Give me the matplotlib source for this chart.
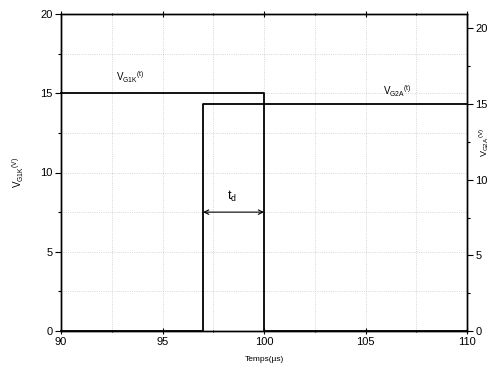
import matplotlib
matplotlib.use("Agg")
import matplotlib.pyplot as plt
from matplotlib.ticker import MultipleLocator

plt.rcParams['font.family'] = ['Liberation Sans', 'DejaVu Sans']
plt.rcParams['mathtext.fontset'] = 'custom'
plt.rcParams['mathtext.rm'] = 'Liberation Sans'
plt.rcParams['mathtext.it'] = 'Liberation Sans'

# Data
t_g1k = [90, 100, 100, 110]
v_g1k = [15, 15, 0, 0]
t_g2a = [90, 97, 97, 110]
v_g2a = [0, 0, 15, 15]
td_start, td_end, td_level = 97, 100, 7.5

fig = plt.figure(figsize=(4.92, 3.69), dpi=100)
ax = fig.add_axes([61/492, 1 - 331/369, (467-61)/492, (331-14)/369])
ax2 = ax.twinx()

ax.plot(t_g1k, v_g1k, color='black', lw=1.3, clip_on=False, zorder=5)
ax2.plot(t_g2a, v_g2a, color='black', lw=1.3, clip_on=False, zorder=5)

ax.set_xlim(90, 110)
ax.set_ylim(0, 20)
ax2.set_ylim(0, 20.95)

ax.xaxis.set_major_locator(MultipleLocator(5))
ax.xaxis.set_minor_locator(MultipleLocator(2.5))
ax.yaxis.set_major_locator(MultipleLocator(5))
ax.yaxis.set_minor_locator(MultipleLocator(2.5))
ax2.yaxis.set_major_locator(MultipleLocator(5))
ax2.yaxis.set_minor_locator(MultipleLocator(2.5))

ax.grid(True, which='both', color='#c8c8c8', linestyle=':', linewidth=0.6)
ax.set_axisbelow(True)

for a in (ax, ax2):
    for s in a.spines.values():
        s.set_linewidth(1.0)
ax.tick_params(axis='both', which='major', length=4, width=0.8, labelsize=8, direction='out', pad=2)
ax.tick_params(axis='both', which='minor', length=2, width=0.8, direction='out')
ax.tick_params(axis='x', which='both', top=True, direction='inout')
ax.tick_params(axis='x', which='major', length=5)
ax2.tick_params(axis='y', which='major', length=4, width=0.8, labelsize=8, direction='out', pad=2)
ax2.tick_params(axis='y', which='minor', length=2, width=0.8, direction='out')

ax.set_xlabel('Temps(µs)', fontsize=6, labelpad=6)
ax.set_ylabel(r'$\mathregular{V_{G1K}{}^{(V)}}$', fontsize=7, labelpad=10)
fig.text(484/492, 1 - 142/369, r'$\mathregular{V_{G2A}{}^{(V)}}$', fontsize=6.5,
         rotation=90, ha='center', va='center')

ax.text(93.4, 16.0, r'$\mathregular{V_{G1K}{}^{(t)}}$', fontsize=7, ha='center', va='center')
ax.text(106.55, 15.1, r'$\mathregular{V_{G2A}{}^{(t)}}$', fontsize=7, ha='center', va='center')

ax.annotate('', xy=(td_start, td_level), xytext=(td_end, td_level),
            arrowprops=dict(arrowstyle='<->', color='black', lw=0.8,
                            shrinkA=0, shrinkB=0, mutation_scale=8))
ax.text(98.4, 8.5, r'$\mathregular{t_d}$', fontsize=9, ha='center', va='center')

fig.savefig('out.png', dpi=100)
